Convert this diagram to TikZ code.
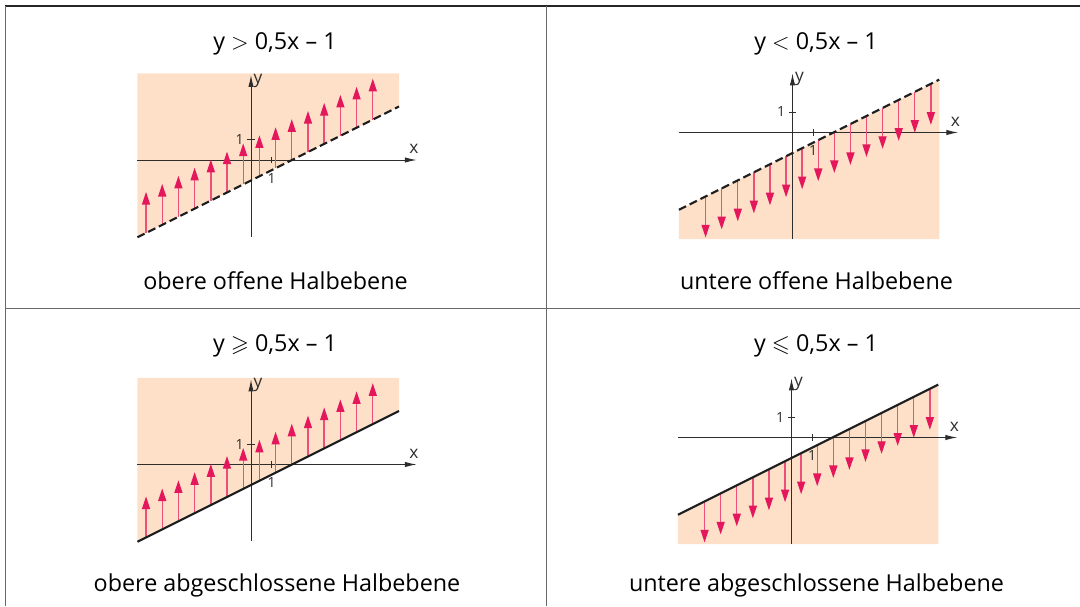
\documentclass[tikz,border=0pt]{standalone}
\usepackage{amssymb}
\usepackage{fontspec}
\setmainfont{Open Sans}
\usetikzlibrary{arrows.meta}
\definecolor{peach}{RGB}{253,224,199}
\definecolor{headred}{RGB}{228,22,92}
\definecolor{shaftred}{RGB}{236,80,122}
\definecolor{axisgray}{RGB}{45,45,45}
\definecolor{framegray}{RGB}{105,105,105}
\tikzset{
  frame/.style={draw=framegray, line width=1.1pt},
  topline/.style={draw=black!85, line width=1.1pt},
  axis/.style={draw=axisgray, line width=0.75pt, -{Latex[length=9pt,width=4pt]}},
  tickline/.style={draw=axisgray, line width=0.6pt},
  bound/.style={draw=black!88, line width=1.6pt},
  dashbound/.style={bound, dash pattern=on 6pt off 3pt},
  vecarrow/.style={draw=shaftred, line width=1.05pt, -{Triangle[length=9.5pt,width=6pt,color=headred]}},
  title/.style={font=\fontsize{17.5}{20}\selectfont, anchor=base, inner sep=0pt},
  lbl/.style={font=\fontsize{10.5}{12}\selectfont, text=axisgray, inner sep=0pt},
  axlbl/.style={font=\fontsize{13}{15}\selectfont, text=axisgray, inner sep=0pt}
}
\newcommand{\hpaxes}[3]{% #1 y bottom, #2 y tip, #3 suffix
  \draw[axis] (-5.54,0) -- (8.09,0);
  \draw[axis] (0,#1) -- (0,#2);
  \draw[tickline] (1,-0.16) -- (1,0.16);
  \draw[tickline] (-0.18,1) -- (0.18,1);
  \node[lbl] (one-x-#3) at (1,-0.9) {1};
  \node[lbl] (one-y-#3) at (-0.55,1) {1};
  \node[axlbl, anchor=west] (ylab-#3) at (0.12,#2-0.28) {y};
  \node[axlbl] (xlab-#3) at (7.95,0.52) {x};
}
\begin{document}
\begin{tikzpicture}[x=0.75pt,y=-0.75pt]
\useasboundingbox (0,0) rectangle (1080,606);
% table frame
\draw[topline] (5,6) -- (1080,6);
\draw[frame] (5.5,6) -- (5.5,606);
\draw[frame] (546.5,6) -- (546.5,606);
\draw[frame] (5.5,308.5) -- (1080,308.5);

% texts
\node[title] (t1) at (275,50) {y $>$ 0,5x – 1};
\node[title] (t2) at (816,50) {y $<$ 0,5x – 1};
\node[title] (c1) at (275.5,289) {obere offene Halbebene};
\node[title] (c2) at (816.5,289) {untere offene Halbebene};
\node[title] (t3) at (275,351) {y $\geqslant$ 0,5x – 1};
\node[title] (t4) at (816,351) {y $\leqslant$ 0,5x – 1};
\node[title] (c3) at (277,591) {obere abgeschlossene Halbebene};
\node[title] (c4) at (816.5,591) {untere abgeschlossene Halbebene};

% top left
\begin{scope}[shift={(251,160)}, x=15.375pt, y=15.375pt]
  \fill[peach] (-5.54,-3.77) -- (7.22,2.61) -- (7.22,4.22) -- (-5.54,4.22) -- cycle;
  \hpaxes{-3.74}{4.15}{a}
  \foreach \k in {0,...,14}{
    \pgfmathsetmacro\xx{-5.12+0.79*\k}
    \pgfmathsetmacro\ya{0.5*(\xx)-1}
    \pgfmathsetmacro\yb{0.5*(\xx)+1}
    \draw[vecarrow] (\xx,\ya) -- (\xx,\yb);
  }
  \draw[dashbound] (-5.54,-3.77) -- (7.22,2.61);
\end{scope}

% top right
\begin{scope}[shift={(792.5,132.5)}, x=15.375pt, y=15.375pt]
  \fill[peach] (-5.54,-3.77) -- (7.16,2.58) -- (7.16,-5.2) -- (-5.54,-5.2) -- cycle;
  \hpaxes{-5.2}{2.89}{b}
  \foreach \k in {0,...,14}{
    \pgfmathsetmacro\xx{-4.24+0.785*\k}
    \pgfmathsetmacro\ya{0.5*(\xx)-1}
    \pgfmathsetmacro\yb{0.5*(\xx)-3}
    \draw[vecarrow] (\xx,\ya) -- (\xx,\yb);
  }
  \draw[dashbound] (-5.54,-3.77) -- (7.16,2.58);
\end{scope}

% bottom left
\begin{scope}[shift={(251,464.5)}, x=15.375pt, y=15.375pt]
  \fill[peach] (-5.54,-3.77) -- (7.22,2.61) -- (7.22,4.22) -- (-5.54,4.22) -- cycle;
  \hpaxes{-3.74}{4.15}{c}
  \foreach \k in {0,...,14}{
    \pgfmathsetmacro\xx{-5.12+0.79*\k}
    \pgfmathsetmacro\ya{0.5*(\xx)-1}
    \pgfmathsetmacro\yb{0.5*(\xx)+1}
    \draw[vecarrow] (\xx,\ya) -- (\xx,\yb);
  }
  \draw[bound] (-5.54,-3.77) -- (7.22,2.61);
\end{scope}

% bottom right
\begin{scope}[shift={(791.5,437.5)}, x=15.375pt, y=15.375pt]
  \fill[peach] (-5.54,-3.77) -- (7.16,2.58) -- (7.16,-5.2) -- (-5.54,-5.2) -- cycle;
  \hpaxes{-5.2}{2.89}{d}
  \foreach \k in {0,...,14}{
    \pgfmathsetmacro\xx{-4.24+0.785*\k}
    \pgfmathsetmacro\ya{0.5*(\xx)-1}
    \pgfmathsetmacro\yb{0.5*(\xx)-3}
    \draw[vecarrow] (\xx,\ya) -- (\xx,\yb);
  }
  \draw[bound] (-5.54,-3.77) -- (7.16,2.58);
\end{scope}
\end{tikzpicture}
\end{document}
